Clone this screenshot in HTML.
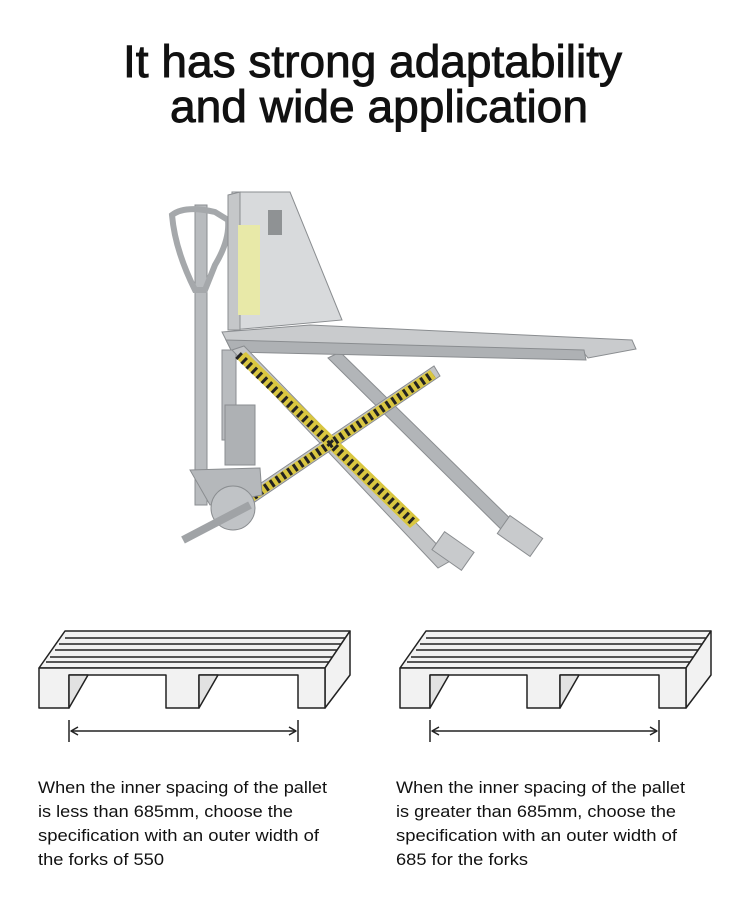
<!DOCTYPE html>
<html><head><meta charset="utf-8"><style>
html,body{margin:0;padding:0;background:#fff;}
svg{display:block;}
text{font-family:"Liberation Sans",sans-serif;fill:#111;}
</style></head><body>
<svg width="750" height="913" viewBox="0 0 750 913" xmlns="http://www.w3.org/2000/svg">
<g stroke="#111" stroke-width="0.9">
<text x="123" y="77" font-size="45" textLength="499" lengthAdjust="spacingAndGlyphs">It has strong adaptability</text>
<text x="170" y="122" font-size="45" textLength="418" lengthAdjust="spacingAndGlyphs">and wide application</text>
</g>

<!-- truck -->
<g stroke="#8a8d90" stroke-width="1">
<rect x="195" y="205" width="12" height="300" fill="#b8bbbe"/>
<path d="M172 215 Q185 205 215 212 L228 220 Q230 240 215 265 L205 290 L195 290 Q175 250 172 215 Z" fill="none" stroke="#a5a8ab" stroke-width="6"/>
<polygon points="328,358 340,352 532,540 520,548" fill="#b2b5b8"/>
<rect x="500" y="525" width="40" height="22" fill="#c8cacc" transform="rotate(35 520 536)"/>
<polygon points="232,192 290,192 342,320 232,330" fill="#d8dadc"/>
<polygon points="228,195 240,192 240,330 228,330" fill="#c5c7c9"/>
<rect x="238" y="225" width="22" height="90" fill="#e8e9a8" stroke="none"/>
<rect x="268" y="210" width="14" height="25" fill="#8f9294" stroke="none"/>
<polygon points="222,332 310,325 632,340 636,349 588,358 584,353 232,352" fill="#c9cbcd"/>
<polygon points="226,340 584,350 586,360 232,352" fill="#aeb1b4"/>
<rect x="222" y="350" width="14" height="90" fill="#b9bcbf"/>
<rect x="225" y="405" width="30" height="60" fill="#aeb1b4"/>
<polygon points="232,350 244,346 452,560 438,568" fill="#c3c5c7"/>
<polygon points="236,500 434,366 440,376 240,512" fill="#c3c5c7"/>
</g>
<g stroke="none">
<polygon points="236,358 246,352 420,520 410,528" fill="#d9c640"/>
<polygon points="240,500 430,370 436,378 244,508" fill="#d9c640"/>
<line x1="238" y1="355" x2="415" y2="524" stroke="#222" stroke-width="8" stroke-dasharray="3 4"/>
<line x1="242" y1="504" x2="433" y2="374" stroke="#222" stroke-width="8" stroke-dasharray="3 4"/>
</g>
<g stroke="#8a8d90" stroke-width="1">
<rect x="435" y="540" width="36" height="22" fill="#c8cacc" transform="rotate(35 453 551)"/>
<polygon points="190,470 260,468 262,495 210,505" fill="#b5b8bb"/>
<circle cx="233" cy="508" r="22" fill="#c0c3c6"/>
<line x1="183" y1="540" x2="250" y2="505" stroke="#a0a3a6" stroke-width="8"/>
</g>

<!-- pallets -->
<g id="p" fill="#f2f2f2" stroke="#222" stroke-width="1.5" stroke-linejoin="round">
<polygon points="39,668 65,631 350,631 325,668"/>
<line x1="65" y1="638" x2="345" y2="638"/>
<line x1="59" y1="644" x2="341" y2="644"/>
<line x1="55" y1="650" x2="337" y2="650"/>
<line x1="50" y1="657" x2="333" y2="657"/>
<line x1="46" y1="662" x2="329" y2="662"/>
<polygon points="325,668 350,631 350,675 325,708" />
<path d="M39 668 L325 668 L325 708 L298 708 L298 675 L199 675 L199 708 L166 708 L166 675 L69 675 L69 708 L39 708 Z"/>
<polygon points="69,708 69,675 88,675" fill="#e2e2e2"/>
<polygon points="199,708 199,675 218,675" fill="#e2e2e2"/>
<line x1="69" y1="720" x2="69" y2="742"/>
<line x1="298" y1="720" x2="298" y2="742"/>
<line x1="71" y1="731" x2="296" y2="731"/>
<polyline points="78,727 71,731 78,735" fill="none"/>
<polyline points="289,727 296,731 289,735" fill="none"/>
</g>
<use href="#p" transform="translate(361,0)"/>

<g font-size="17" >
<text x="38" y="793" textLength="289" lengthAdjust="spacingAndGlyphs">When the inner spacing of the pallet</text>
<text x="38" y="817" textLength="255" lengthAdjust="spacingAndGlyphs">is less than 685mm, choose the</text>
<text x="38" y="841" textLength="281" lengthAdjust="spacingAndGlyphs">specification with an outer width of</text>
<text x="38" y="865" textLength="126" lengthAdjust="spacingAndGlyphs">the forks of 550</text>
<text x="396" y="793" textLength="289" lengthAdjust="spacingAndGlyphs">When the inner spacing of the pallet</text>
<text x="396" y="817" textLength="280" lengthAdjust="spacingAndGlyphs">is greater than 685mm, choose the</text>
<text x="396" y="841" textLength="281" lengthAdjust="spacingAndGlyphs">specification with an outer width of</text>
<text x="396" y="865" textLength="132" lengthAdjust="spacingAndGlyphs">685 for the forks</text>
</g>
</svg>
</body></html>
